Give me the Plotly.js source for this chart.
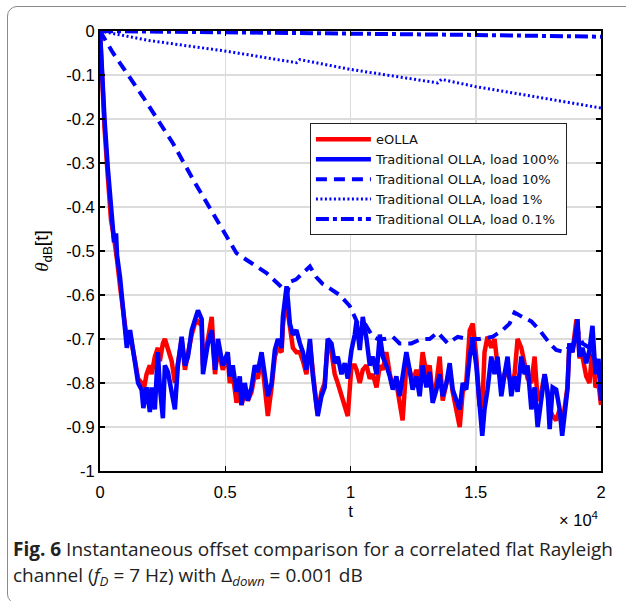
<!DOCTYPE html>
<html>
<head>
<meta charset="utf-8">
<script src="https://cdn.plot.ly/plotly-3.0.1.min.js"></script>
<style>
  html, body { margin: 0; padding: 0; background: #ffffff; }
  #frame {
    position: absolute; left: 7px; top: 6px; width: 650px; height: 598px;
    border: 1.5px solid #8a8a8a; border-radius: 10px; box-sizing: border-box;
  }
  #chart { position: absolute; left: 0; top: 0; width: 626px; height: 601px; }
</style>
</head>
<body>
<div id="frame"></div>
<div id="chart"></div>
<script>
// Time axis shared by the eOLLA and load-100% runs
const tFast = [
  0, 80, 180, 310, 440, 560, 640, 680, 800, 880,
  1000, 1070, 1200, 1320, 1400, 1520, 1660, 1730, 1860, 1990,
  2060, 2190, 2310, 2390, 2510, 2590, 2710, 2860, 2990, 3110,
  3260, 3390, 3510, 3660, 3790, 3910, 4060, 4110, 4310, 4460,
  4590, 4710, 4900, 5100, 5180, 5300, 5450, 5580, 5650, 5780,
  5900, 6050, 6180, 6300, 6450, 6580, 6700, 6850, 6980, 7100,
  7250, 7300, 7450, 7500, 7580, 7700, 7840, 7980, 8100, 8240,
  8380, 8490, 8640, 8690, 8840, 8970, 9090, 9240, 9370, 9490,
  9640, 9770, 9890, 10040, 10170, 10240, 10370, 10490, 10640, 10770,
  10890, 11040, 11170, 11290, 11430, 11570, 11690, 11830, 11960, 12080,
  12230, 12360, 12480, 12630, 12760, 12880, 13030, 13160, 13280, 13430,
  13560, 13680, 13830, 13960, 14080, 14230, 14360, 14480, 14620, 14760,
  14880, 15020, 15150, 15260, 15350, 15470, 15620, 15750, 15870, 16020,
  16150, 16270, 16420, 16550, 16670, 16820, 16950, 17070, 17220, 17350,
  17470, 17620, 17750, 17870, 17950, 18070, 18210, 18350, 18450, 18540,
  18660, 18740, 18860, 19010, 19060, 19140, 19260, 19410, 19540, 19660,
  19780, 19900, 20000
];

// eOLLA offset theta_dB[t]
const eOLLA = [
  0, -0.11, -0.22, -0.33, -0.43, -0.47, -0.50, -0.52, -0.58, -0.62,
  -0.66, -0.70, -0.69, -0.72, -0.75, -0.79, -0.80, -0.82, -0.78, -0.76,
  -0.78, -0.74, -0.72, -0.75, -0.71, -0.70, -0.72, -0.75, -0.80, -0.75,
  -0.70, -0.77, -0.73, -0.69, -0.665, -0.66, -0.67, -0.76, -0.70, -0.65,
  -0.78, -0.72, -0.77, -0.74, -0.80, -0.78, -0.845, -0.80, -0.85, -0.82,
  -0.84, -0.82, -0.78, -0.79, -0.74, -0.80, -0.875, -0.81, -0.74, -0.72,
  -0.73, -0.67, -0.60, -0.64, -0.68, -0.72, -0.73, -0.73, -0.75, -0.78,
  -0.71, -0.78, -0.85, -0.87, -0.82, -0.80, -0.71, -0.73, -0.78, -0.80,
  -0.83, -0.855, -0.875, -0.76, -0.76, -0.77, -0.80, -0.77, -0.76, -0.79,
  -0.78, -0.81, -0.76, -0.77, -0.73, -0.78, -0.81, -0.80, -0.84, -0.885,
  -0.76, -0.77, -0.80, -0.77, -0.80, -0.73, -0.78, -0.76, -0.83, -0.80,
  -0.74, -0.84, -0.80, -0.77, -0.82, -0.87, -0.90, -0.82, -0.80, -0.68,
  -0.665, -0.74, -0.85, -0.855, -0.73, -0.695, -0.72, -0.70, -0.76, -0.80,
  -0.78, -0.78, -0.80, -0.78, -0.70, -0.72, -0.76, -0.79, -0.80, -0.74,
  -0.84, -0.82, -0.78, -0.82, -0.86, -0.875, -0.885, -0.86, -0.89, -0.86,
  -0.81, -0.71, -0.73, -0.66, -0.66, -0.74, -0.74, -0.785, -0.80, -0.72,
  -0.81, -0.80, -0.85
];

// Traditional OLLA, load 100%
const olla100 = [
  0, -0.10, -0.20, -0.31, -0.41, -0.48, -0.46, -0.51, -0.56, -0.61,
  -0.66, -0.72, -0.68, -0.72, -0.755, -0.80, -0.815, -0.857, -0.81, -0.866,
  -0.81, -0.86, -0.73, -0.81, -0.88, -0.76, -0.775, -0.815, -0.86, -0.76,
  -0.695, -0.76, -0.74, -0.68, -0.655, -0.635, -0.655, -0.78, -0.71, -0.68,
  -0.77, -0.70, -0.76, -0.73, -0.785, -0.76, -0.82, -0.785, -0.85, -0.80,
  -0.84, -0.81, -0.76, -0.775, -0.73, -0.79, -0.83, -0.80, -0.725, -0.70,
  -0.72, -0.65, -0.58, -0.61, -0.665, -0.69, -0.68, -0.71, -0.73, -0.77,
  -0.70, -0.78, -0.84, -0.875, -0.83, -0.81, -0.70, -0.71, -0.755, -0.74,
  -0.78, -0.755, -0.79, -0.725, -0.69, -0.66, -0.725, -0.65, -0.70, -0.76,
  -0.74, -0.78, -0.69, -0.74, -0.76, -0.785, -0.815, -0.785, -0.83, -0.785,
  -0.73, -0.77, -0.815, -0.785, -0.83, -0.76, -0.81, -0.775, -0.845, -0.815,
  -0.78, -0.83, -0.80, -0.755, -0.815, -0.84, -0.86, -0.80, -0.815, -0.74,
  -0.70, -0.76, -0.855, -0.92, -0.86, -0.815, -0.74, -0.78, -0.74, -0.83,
  -0.78, -0.74, -0.83, -0.785, -0.82, -0.74, -0.78, -0.76, -0.86, -0.81,
  -0.90, -0.84, -0.78, -0.82, -0.905, -0.81, -0.815, -0.86, -0.92, -0.875,
  -0.815, -0.71, -0.73, -0.68, -0.655, -0.74, -0.72, -0.755, -0.725, -0.67,
  -0.78, -0.745, -0.84
];

// Traditional OLLA, load 10%
const t10 = [
  0, 520, 1720, 2910, 3790, 4650, 5450, 5980, 6650, 7300,
  7460, 7580, 7820, 8100, 8380, 8640, 8890, 9170, 9570, 9970,
  10170, 10290, 10570, 10890, 11090, 11370, 11690, 11960, 12430, 12830,
  13160, 13480, 13880, 14280, 14680, 15150, 15670, 16070, 16350, 16550,
  16870, 17220, 17550, 17950, 18210, 18540, 18740, 18860, 19060, 19260,
  19540, 19780, 20000
];
const olla10 = [
  0, -0.05, -0.15, -0.255, -0.345, -0.43, -0.505, -0.525, -0.55, -0.585,
  -0.60, -0.57, -0.565, -0.55, -0.535, -0.56, -0.575, -0.585, -0.60, -0.625,
  -0.65, -0.665, -0.665, -0.695, -0.70, -0.70, -0.695, -0.71, -0.71, -0.70,
  -0.70, -0.685, -0.71, -0.695, -0.70, -0.70, -0.695, -0.68, -0.665, -0.64,
  -0.65, -0.66, -0.68, -0.71, -0.725, -0.73, -0.718, -0.72, -0.68, -0.71,
  -0.72, -0.75, -0.80
];

// Traditional OLLA, load 1%
const t1 = [0, 2000, 5050, 7840, 7980, 9970, 13480, 13630, 14960, 20000];
const olla1 = [0, -0.022, -0.046, -0.072, -0.065, -0.087, -0.118, -0.110, -0.126, -0.175];

// Traditional OLLA, load 0.1%
const t01 = [0, 8000, 15000, 20000];
const olla01 = [0, -0.004, -0.009, -0.013];

const seriesNames = [
  'eOLLA',
  'Traditional OLLA, load 100%',
  'Traditional OLLA, load 10%',
  'Traditional OLLA, load 1%',
  'Traditional OLLA, load 0.1%'
];

const xTickVals = [0, 5000, 10000, 15000, 20000];
const xTickText = ['0', '0.5', '1', '1.5', '2'];
const yTickVals = [-1, -0.9, -0.8, -0.7, -0.6, -0.5, -0.4, -0.3, -0.2, -0.1, 0];
const yTickText = ['-1', '-0.9', '-0.8', '-0.7', '-0.6', '-0.5', '-0.4', '-0.3', '-0.2', '-0.1', '0'];

const FONT = 'Liberation Sans, Arial, Helvetica, sans-serif';
const LEGEND_FONT = 'DejaVu Sans, sans-serif';
const CAPTION_FONT = 'Open Sans, Noto Sans, sans-serif';
const BLUE = '#0000ff';
const RED = '#ff0000';

const traces = [
  { x: tFast, y: eOLLA, name: seriesNames[0], mode: 'lines',
    line: { color: RED, width: 4.5 } },
  { x: tFast, y: olla100, name: seriesNames[1], mode: 'lines',
    line: { color: BLUE, width: 4.5 } },
  { x: t10, y: olla10, name: seriesNames[2], mode: 'lines',
    line: { color: BLUE, width: 4, dash: '11px,7px' } },
  { x: t1, y: olla1, name: seriesNames[3], mode: 'lines',
    line: { color: BLUE, width: 3, dash: '2px,2.5px' } },
  { x: t01, y: olla01, name: seriesNames[4], mode: 'lines',
    line: { color: BLUE, width: 4, dash: '13px,4px,4px,4px' } }
];

const axisCommon = {
  ticks: 'inside', ticklen: 5, tickwidth: 1.5, tickcolor: '#000',
  showline: true, linecolor: '#000', linewidth: 2, mirror: 'ticks',
  showgrid: true, gridcolor: '#dcdcdc', gridwidth: 1.5, zeroline: false,
  tickfont: { family: FONT, size: 16.5, color: '#000' }
};

const layout = {
  width: 626, height: 601,
  margin: { l: 100, r: 25, t: 31, b: 130 },
  paper_bgcolor: 'rgba(0,0,0,0)',
  plot_bgcolor: '#ffffff',
  showlegend: true,
  legend: {
    x: 0.419, y: 0.79, xanchor: 'left', yanchor: 'top',
    bgcolor: '#ffffff', bordercolor: '#222', borderwidth: 1,
    font: { family: LEGEND_FONT, size: 13, color: '#111' },
    itemwidth: 55, tracegroupgap: 0
  },
  xaxis: Object.assign({}, axisCommon, {
    range: [0, 20000], tickmode: 'array', tickvals: xTickVals, ticktext: xTickText,
    ticklabelstandoff: 5,
    title: { text: 't', standoff: 5, font: { family: FONT, size: 17, color: '#000' } }
  }),
  yaxis: Object.assign({}, axisCommon, {
    range: [-1, 0], tickmode: 'array', tickvals: yTickVals, ticktext: yTickText,
    title: {
      text: '<span style="font-family:Liberation Serif"><i>θ</i></span><sub>dB</sub>[t]',
      standoff: 13, font: { family: FONT, size: 19, color: '#000' }
    }
  }),
  annotations: [
    { xref: 'paper', yref: 'paper', x: 1.0, y: -0.108, xanchor: 'right', yanchor: 'middle',
      text: '× 10<sup>4</sup>', showarrow: false,
      font: { family: FONT, size: 16.5, color: '#000' } },
    { xref: 'paper', yref: 'paper', x: -0.178, y: -0.1775, xanchor: 'left', yanchor: 'middle',
      text: '<b>Fig. 6</b> Instantaneous offset comparison for a correlated flat Rayleigh',
      showarrow: false, align: 'left',
      font: { family: CAPTION_FONT, size: 19, color: '#222' } },
    { xref: 'paper', yref: 'paper', x: -0.178, y: -0.2389, xanchor: 'left', yanchor: 'middle',
      text: 'channel (<i>f<sub>D</sub></i> = 7 Hz) with Δ<sub><i>down</i></sub> = 0.001 dB',
      showarrow: false, align: 'left',
      font: { family: CAPTION_FONT, size: 19, color: '#222' } }
  ]
};

Plotly.newPlot('chart', traces, layout, { displayModeBar: false, staticPlot: true });
</script>
</body>
</html>
